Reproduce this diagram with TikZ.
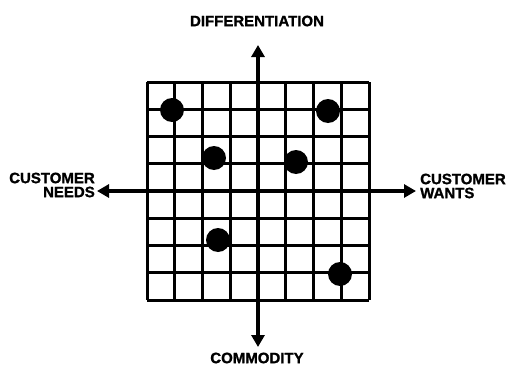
\documentclass[tikz,border=0pt]{standalone}
\usepackage{fontspec}
\setmainfont{Liberation Sans}
\newfontfamily\heavyfont[FakeBold=1.2]{Liberation Sans Bold}
\usetikzlibrary{arrows.meta}
\begin{document}
\begin{tikzpicture}[x=1pt,y=-1pt,
  gridline/.style={line width=3pt},
  axis/.style={line width=3.8pt,{Triangle[length=12pt,width=13pt]}-{Triangle[length=12pt,width=13pt]}},
  dot/.style={circle,fill=black,inner sep=0pt,minimum size=24pt},
  lbl/.style={inner sep=0pt,font=\heavyfont\fontsize{15}{14}\selectfont}]
\useasboundingbox (0,0) rectangle (507,367);
% grid
\foreach \i in {0,...,8}{
  \draw[gridline] (147+\i*27.75,82) -- (147+\i*27.75,300);
  \draw[gridline] (147,82+\i*27.25) -- (369,82+\i*27.25);
}
% axes
\coordinate (top) at (258,45);
\coordinate (bot) at (258,347);
\coordinate (lft) at (97,191);
\coordinate (rgt) at (416,191);
\draw[axis] (bot) -- (top);
\draw[axis] (lft) -- (rgt);
% dots
\node[dot] (d1) at (172,110) {};
\node[dot] (d2) at (328,111) {};
\node[dot] (d3) at (214,158) {};
\node[dot] (d4) at (296,162) {};
\node[dot] (d5) at (218,240) {};
\node[dot] (d6) at (340,274) {};
% labels
\node[lbl] (diff) at (257,21) {DIFFERENTIATION};
\node[lbl] (comm) at (257,358) {COMMODITY};
\node[lbl,anchor=east,align=right] (needs) at (95,185) {CUSTOMER\\NEEDS};
\node[lbl,anchor=west,align=left] (wants) at (420,186) {CUSTOMER\\WANTS};
\end{tikzpicture}
\end{document}
